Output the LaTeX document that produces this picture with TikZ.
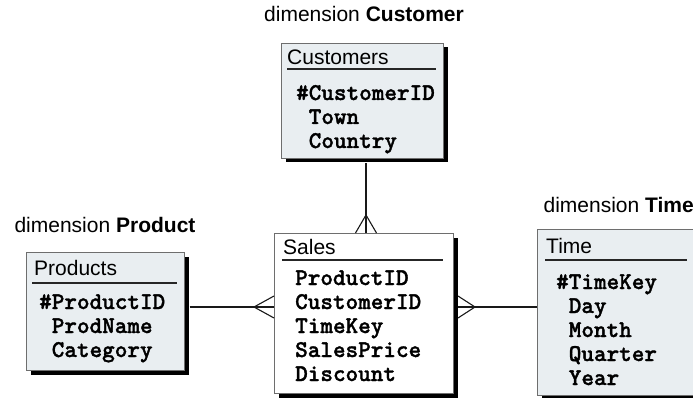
\documentclass[tikz,border=0pt]{standalone}
\usepackage{fontspec}
\setmainfont{Liberation Sans}
\newfontfamily\codefont{lmmonolt10-bold}[Extension=.otf, FakeBold=1.4]
\usetikzlibrary{shadows,calc}

\definecolor{entityfill}{HTML}{E9EEF1}
\definecolor{entityedge}{HTML}{6E6E6E}

\tikzset{
  entity/.style={draw=entityedge, line width=1pt, fill=entityfill,
    rectangle, anchor=north west, inner sep=0pt,
    drop shadow={shadow xshift=4pt, shadow yshift=-4pt, fill=black, opacity=1}},
  facttable/.style={entity, fill=white},
  title/.style={anchor=base west, inner sep=0pt, font=\fontsize{21}{24}\selectfont},
  attr/.style={anchor=base west, inner sep=0pt, font=\codefont\fontsize{24}{24}\selectfont},
  rule/.style={line width=1.2pt, draw=black!85},
  caption/.style={inner sep=0pt, font=\fontsize{21}{24}\selectfont},
  link/.style={line width=1.1pt, draw=black!90},
}

\newcommand{\keyspace}{\hphantom{\#}}

\begin{document}
\begin{tikzpicture}[x=1pt, y=-1pt]
\useasboundingbox (0,0) rectangle (693,398);
\clip (0,0) rectangle (693,398);

% ---------- Customers ----------
\node[caption, anchor=base] (capcust) at (364,22) {dimension \textbf{Customer}};
\node[entity, minimum width=162pt, minimum height=115pt] (cust) at (281,43) {};
\node[title] (custtitle) at (287,65) {Customers};
\draw[rule] (287,69) -- (436,69);
\node[attr] (custa1) at (296,100) {\#CustomerID};
\node[attr] (custa2) at (296,124) {\keyspace Town};
\node[attr] (custa3) at (296,148) {\keyspace Country};

% ---------- Products ----------
\node[caption, anchor=base] (capprod) at (105,233) {dimension \textbf{Product}};
\node[entity, minimum width=158pt, minimum height=118pt] (prod) at (26,252) {};
\node[title] (prodtitle) at (34,275) {Products};
\draw[rule] (32,283) -- (177,283);
\node[attr] (proda1) at (39,309) {\#ProductID};
\node[attr] (proda2) at (39,333) {\keyspace ProdName};
\node[attr] (proda3) at (39,357) {\keyspace Category};

% ---------- Sales ----------
\node[facttable, minimum width=179pt, minimum height=160pt] (sales) at (274,233) {};
\node[title] (salestitle) at (283,254) {Sales};
\draw[rule] (282,260) -- (443,260);
\node[attr] (salesa1) at (295,285) {ProductID};
\node[attr] (salesa2) at (295,309) {CustomerID};
\node[attr] (salesa3) at (295,333) {TimeKey};
\node[attr] (salesa4) at (295,357) {SalesPrice};
\node[attr] (salesa5) at (295,381) {Discount};

% ---------- Time ----------
\node[caption, anchor=base east] (captime) at (694,212) {dimension \textbf{Time}};
\node[entity, minimum width=162pt, minimum height=166pt] (time) at (537,229) {};
\node[title] (timetitle) at (546,253) {Time};
\draw[rule] (545,260) -- (687,260);
\node[attr] (timea1) at (556,289) {\#TimeKey};
\node[attr] (timea2) at (556,313) {\keyspace Day};
\node[attr] (timea3) at (556,337) {\keyspace Month};
\node[attr] (timea4) at (556,361) {\keyspace Quarter};
\node[attr] (timea5) at (556,385) {\keyspace Year};

% ---------- connectors with crow's feet at the fact table ----------
\coordinate (rowline) at (0,307);
\coordinate (custx) at (366,0);

% Customers -- Sales
\draw[link] (cust.south -| custx) ++(0,4.5) -- (sales.north -| custx);
\draw[link] ($(sales.north -| custx)+(-10.5,0)$) -- ($(sales.north -| custx)+(0,-18)$)
  -- ($(sales.north -| custx)+(10.5,0)$);

% Products -- Sales
\draw[link] ($(prod.east |- rowline)+(4.5,0)$) -- (sales.west |- rowline);
\draw[link] ($(sales.west |- rowline)+(0,-11)$) -- ($(sales.west |- rowline)+(-20,0)$)
  -- ($(sales.west |- rowline)+(0,11)$);

% Sales -- Time
\draw[link] ($(sales.east |- rowline)+(4,0)$) -- (time.west |- rowline);
\draw[link] ($(sales.east |- rowline)+(4,-11)$) -- ($(sales.east |- rowline)+(21,0)$)
  -- ($(sales.east |- rowline)+(4,11)$);
\end{tikzpicture}
\end{document}
